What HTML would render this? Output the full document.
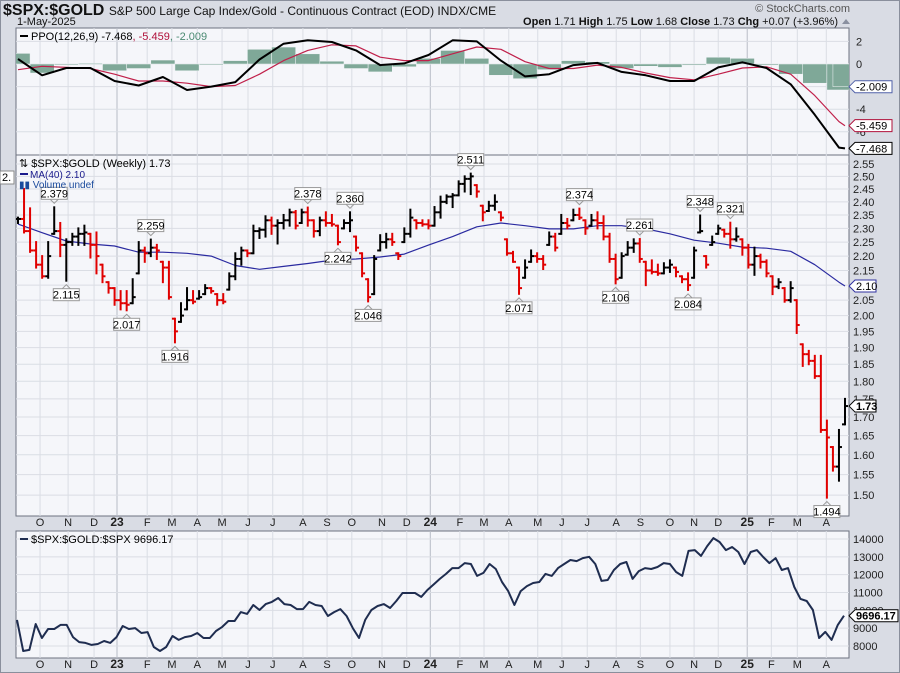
<!DOCTYPE html>
<html><head><meta charset="utf-8"><style>
html,body{margin:0;padding:0;background:#d9dce4;}
svg{display:block;font-family:"Liberation Sans",sans-serif;}
</style></head><body>
<svg id="chart" width="900" height="673" viewBox="0 0 900 673" xmlns="http://www.w3.org/2000/svg">
<rect x="0" y="0" width="900" height="673" fill="#d9dce4"/>
<rect x="0.5" y="0.5" width="899" height="672" fill="none" stroke="#8a8f9c"/>
<g>
<text x="3" y="15" font-size="16" font-weight="bold" fill="#111">$SPX:$GOLD <tspan font-size="12" font-weight="normal">S&amp;P 500 Large Cap Index/Gold - Continuous Contract (EOD) INDX/CME</tspan></text>
<text x="17" y="25" font-size="11" fill="#111">1-May-2025</text>
<text x="850" y="12" font-size="11" fill="#555" text-anchor="end">© StockCharts.com</text>
<text x="838" y="25" font-size="11" fill="#111" text-anchor="end"><tspan font-weight="bold">Open</tspan> 1.71  <tspan font-weight="bold">High</tspan> 1.75  <tspan font-weight="bold">Low</tspan> 1.68  <tspan font-weight="bold">Close</tspan> 1.73  <tspan font-weight="bold">Chg</tspan> +0.07 (+3.96%)</text>
<polygon points="842,24 850,24 846,19" fill="#8a90a0"/>
</g>
<rect x="16" y="28" width="833" height="127" fill="#f5f6fa" stroke="#6d7280"/>
<rect x="16" y="155" width="833" height="361" fill="#f5f6fa" stroke="#6d7280"/>
<rect x="16" y="531" width="833" height="127" fill="#f5f6fa" stroke="#6d7280"/>
<defs>
<clipPath id="cp1"><rect x="16" y="28" width="833" height="127"/></clipPath>
<clipPath id="cp2"><rect x="16" y="155" width="833" height="361"/></clipPath>
<clipPath id="cp3"><rect x="16" y="531" width="833" height="127"/></clipPath>
</defs>
<g id="grid"></g>
<g id="ppoG" clip-path="url(#cp1)"></g>
<g id="mainG" clip-path="url(#cp2)"></g>
<g id="botG" clip-path="url(#cp3)"></g>
<g id="axes"></g>
<g id="annots"></g>
<g>
<line x1="20" y1="36" x2="28" y2="36" stroke="#000" stroke-width="2"/>
<text x="31" y="40" font-size="11" fill="#000">PPO(12,26,9) -7.468<tspan fill="#b0103a">, -5.459</tspan><tspan fill="#4a8a72">, -2.009</tspan></text>
</g>
<g>
<text x="19" y="167" font-size="11" fill="#000">⇅ $SPX:$GOLD (Weekly) 1.73</text>
<line x1="20" y1="174" x2="28" y2="174" stroke="#1a1a8c" stroke-width="2"/>
<text x="30" y="178" font-size="10" fill="#1a1a8c">MA(40) 2.10</text>
<text x="19" y="188" font-size="10" fill="#1a4a9c">▮▮ Volume undef</text>
</g>
<g>
<line x1="20" y1="539" x2="28" y2="539" stroke="#1f2d50" stroke-width="2"/>
<text x="31" y="543" font-size="11" fill="#000">$SPX:$GOLD:$SPX 9696.17</text>
</g>
<g><rect x="0" y="171" width="14" height="13" fill="#fff" stroke="#888"/><text x="2" y="181" font-size="11">2.</text></g>
</svg>
<script>
var closes=[2.335,2.29,2.22,2.17,2.13,2.20,2.29,2.24,2.25,2.27,2.28,2.285,2.24,2.20,2.13,2.09,2.05,2.04,2.035,2.06,2.22,2.21,2.23,2.22,2.16,2.06,1.95,2.00,2.05,2.045,2.06,2.09,2.08,2.05,2.045,
2.13,2.19,2.22,2.21,2.29,2.295,2.33,2.31,2.32,2.33,2.36,2.31,2.36,2.33,2.29,2.33,2.32,2.315,2.25,2.32,2.33,2.23,2.14,2.06,2.19,2.25,2.26,2.25,2.20,2.28,2.34,2.32,2.315,2.31,2.36,
2.40,2.42,2.425,2.47,2.49,2.50,2.44,2.36,2.385,2.40,2.34,2.21,2.18,2.09,2.16,2.20,2.19,2.17,2.27,2.23,2.32,2.31,2.35,2.34,2.30,2.33,2.32,2.27,2.19,2.12,2.20,2.23,2.245,2.19,2.15,
2.145,2.14,2.16,2.17,2.145,2.12,2.10,2.22,2.29,2.17,2.25,2.30,2.28,2.26,2.27,2.23,2.17,2.20,2.18,2.14,2.095,2.11,2.05,2.09,1.97,1.88,1.86,1.815,1.665,1.645,1.57,1.62,1.73];
var highs=[2.34,2.45,2.375,2.25,2.20,2.25,2.379,2.32,2.26,2.28,2.30,2.31,2.28,2.285,2.17,2.11,2.09,2.08,2.08,2.12,2.25,2.23,2.259,2.24,2.18,2.18,1.99,2.04,2.09,2.08,2.08,2.10,2.09,2.07,2.07,
2.14,2.21,2.23,2.22,2.31,2.30,2.345,2.34,2.33,2.35,2.37,2.365,2.37,2.378,2.33,2.34,2.36,2.35,2.31,2.33,2.36,2.27,2.21,2.12,2.20,2.275,2.28,2.28,2.21,2.30,2.37,2.33,2.33,2.33,2.38,
2.42,2.425,2.43,2.48,2.50,2.511,2.465,2.385,2.40,2.425,2.36,2.26,2.215,2.16,2.185,2.22,2.21,2.20,2.285,2.28,2.35,2.335,2.37,2.374,2.33,2.35,2.36,2.345,2.28,2.205,2.21,2.25,2.26,2.261,2.18,
2.185,2.17,2.175,2.185,2.16,2.13,2.14,2.23,2.348,2.20,2.27,2.31,2.295,2.321,2.30,2.26,2.24,2.23,2.205,2.185,2.13,2.12,2.09,2.11,2.05,1.91,1.89,1.875,1.875,1.69,1.62,1.665,1.75];
var lows=[2.32,2.285,2.215,2.16,2.125,2.125,2.28,2.20,2.115,2.24,2.24,2.24,2.195,2.14,2.11,2.075,2.035,2.02,2.017,2.04,2.14,2.18,2.20,2.19,2.11,2.055,1.916,1.98,2.02,2.04,2.055,2.07,2.075,2.035,2.04,
2.085,2.12,2.17,2.20,2.21,2.265,2.27,2.28,2.245,2.30,2.31,2.30,2.32,2.31,2.27,2.275,2.31,2.31,2.242,2.30,2.29,2.22,2.13,2.046,2.07,2.22,2.23,2.24,2.19,2.25,2.27,2.30,2.31,2.30,2.31,
2.34,2.395,2.38,2.425,2.44,2.43,2.42,2.33,2.365,2.37,2.33,2.205,2.18,2.071,2.125,2.18,2.18,2.155,2.24,2.22,2.28,2.30,2.33,2.335,2.28,2.31,2.30,2.26,2.18,2.106,2.125,2.205,2.215,2.18,2.10,
2.14,2.135,2.14,2.145,2.13,2.11,2.084,2.125,2.285,2.16,2.24,2.28,2.27,2.23,2.255,2.205,2.16,2.135,2.16,2.13,2.07,2.09,2.045,2.045,1.945,1.845,1.85,1.81,1.66,1.494,1.56,1.535,1.68];
var ma40=[2.316,2.284,2.254,2.243,2.236,2.214,2.214,2.21,2.20,2.167,2.154,2.164,2.174,2.186,2.19,2.197,2.207,2.239,2.27,2.306,2.32,2.31,2.298,2.298,2.31,2.31,2.298,2.28,2.257,2.246,2.232,2.228,2.217,2.17,2.11,2.097];
var ppo=[0.44,-1.0,-0.35,-0.35,-1.5,-1.9,-1.15,-2.3,-2.0,-1.6,0.4,1.8,2.1,1.95,1.2,-0.1,0.05,0.8,2.1,2.0,0.3,-1.1,-0.9,-0.1,0.1,-0.7,-1.0,-1.5,-1.5,-0.3,0.15,-0.35,-1.8,-4.5,-7.4,-7.468];
var signal=[-0.5,-0.2,-0.3,-0.4,-0.9,-1.5,-1.5,-1.7,-2.0,-1.9,-0.9,0.3,1.2,1.7,1.6,0.6,0.3,0.3,0.9,1.5,1.3,0.2,-0.4,-0.4,-0.1,-0.3,-0.8,-1.2,-1.4,-0.9,-0.35,-0.25,-0.9,-2.8,-5.1,-5.459];
var ratio=[9460,7720,7780,9230,8450,8950,8950,9180,9180,8500,8220,8170,8060,8110,8280,8170,8500,9120,8950,9000,8730,8780,7940,7720,7940,8560,8340,8500,8560,8730,8450,8450,8840,9070,9400,9400,9900,9800,10300,10020,10350,10470,10690,
10350,10300,10070,10070,10470,10300,10240,9680,9900,10070,9680,9000,8450,9460,10020,10240,10350,10130,10520,10970,10970,10970,10750,11140,11450,11760,12040,12370,12370,12650,12600,11930,12100,12600,12320,11590,11080,10300,11080,11360,11530,11590,12040,11930,12370,12600,12820,12760,12930,13000,12600,
11650,11700,12260,12600,12710,11760,12200,12370,12320,12430,12650,12600,12150,11930,13330,13380,13050,13600,14050,13830,13380,13550,13270,12600,13270,13380,12990,12650,12930,12260,12370,11310,10640,10520,10020,8450,8790,8340,9180,9696.17];
var priceTicks=[2.55,2.50,2.45,2.40,2.35,2.30,2.25,2.20,2.15,2.10,2.05,2.00,1.95,1.90,1.85,1.80,1.75,1.70,1.65,1.60,1.55,1.50];
var ppoTicks=[2,0,-2,-4,-6];
var ppoTickLabels=["2","0","","-4","-6"];
var ratioTicks=[14000,13000,12000,11000,10000,9000,8000];
var monthLabels=["O","N","D","23","F","M","A","M","J","J","A","S","O","N","D","24","F","M","A","M","J","J","A","S","O","N","D","25","F","M","A"];
var monthWeeks=[3.65,8.3,12.6,16.4,21.4,25.5,29.7,33.8,38.1,42.2,47.2,51.2,55.3,60.3,64.4,68.3,73.2,77.2,81.3,86.1,90.1,94.3,99.1,103.1,108,112,116,120.8,124.8,129.1,133.9];
var peakLabels=[[6,'h'],[8,'l'],[18,'l'],[22,'h'],[26,'l'],[48,'h'],[53,'l'],[55,'h'],[58,'l'],[75,'h'],[83,'l'],[93,'h'],[99,'l'],[103,'h'],[111,'l'],[113,'h'],[118,'h'],[134,'l']];

var NS='http://www.w3.org/2000/svg';
function mk(tag,attrs,parent){var e=document.createElementNS(NS,tag);for(var k in attrs)e.setAttribute(k,attrs[k]);parent.appendChild(e);return e;}
var N=closes.length;
function xW(i){return 18+i*(827/(N-1));}
function yP(v){return 164+(Math.log10(2.55)-Math.log10(v))*1436.6;}
function yO(v){return 64-v*11.3;}
function yB(v){return 539+(14000-v)*0.01783;}
function sampleWeek(k){return Math.min(k*4,N-1);}

var grid=document.getElementById('grid'),axes=document.getElementById('axes');
monthWeeks.forEach(function(w,j){
  var x=xW(w);var yr=/\d/.test(monthLabels[j]);
  [[28,155],[155,516],[531,658]].forEach(function(r){
    var l=mk('line',{x1:x,y1:r[0],x2:x,y2:r[1],stroke:yr?'#b8bcc6':'#dadde4','stroke-width':1},grid);
    
    
  });
  [526,668].forEach(function(yy){
    var t=mk('text',{x:x,y:yy,'font-size':yr?12:11,'font-weight':yr?'bold':'normal','text-anchor':'middle',fill:'#222'},axes);
    t.textContent=monthLabels[j];
    
    
  });
});
priceTicks.forEach(function(v){
  var y=yP(v);
  var l=mk('line',{x1:16,y1:y,x2:849,y2:y,stroke:'#dadde4'},grid);
  
  
  var t=mk('text',{x:853,y:y+4,'font-size':11,fill:'#222'},axes);
  t.textContent=v.toFixed(2);
  
  
});
ppoTicks.forEach(function(v,j){
  var y=yO(v);
  var l=mk('line',{x1:16,y1:y,x2:849,y2:y,stroke:'#dadde4'},grid);
  
  
  var t=mk('text',{x:856,y:y+4,'font-size':11,fill:'#222'},axes);
  t.textContent=ppoTickLabels[j];
  
  
});
ratioTicks.forEach(function(v){
  var y=yB(v);
  var l=mk('line',{x1:16,y1:y,x2:849,y2:y,stroke:'#dadde4'},grid);
  
  
  var t=mk('text',{x:853,y:y+4,'font-size':11,fill:'#222'},axes);
  t.textContent=String(v);
  
  
});

var ppoG=document.getElementById('ppoG');
var stepW=827/(N-1);
for(var k=0;k<ppo.length;k++){
  var h=ppo[k]-signal[k];var w=sampleWeek(k);
  var x=xW(w)-2*stepW;var y0=yO(0),y1=yO(h);
  var r=mk('rect',{x:x,y:Math.min(y0,y1),width:4*stepW,height:Math.max(1,Math.abs(y1-y0)),fill:'#7fa898',stroke:'#f5f6fa','stroke-width':0.5},ppoG);
  
  
}
function poly(arr,xf,yf,color,wd,parent,name){
  var pts=arr.map(function(v,k){return xf(k).toFixed(1)+','+yf(v).toFixed(1);}).join(' ');
  var p=mk('polyline',{points:pts,fill:'none',stroke:color,'stroke-width':wd,'stroke-linejoin':'round'},parent);
  
  
}
poly(signal,function(k){return xW(sampleWeek(k));},yO,'#c0204a',1.2,ppoG,'ppo-signal-line');
poly(ppo,function(k){return xW(sampleWeek(k));},yO,'#000',2,ppoG,'ppo-line');

var mainG=document.getElementById('mainG');
poly(ma40,function(k){return xW(sampleWeek(k));},yP,'#2a2aa0',1.2,mainG,'ma40-line');
for(var i=0;i<N;i++){
  var c=closes[i],prev=i?closes[i-1]:c;
  var hi=Math.max(highs[i],c),lo=Math.min(lows[i],c);
  var o=Math.min(hi,Math.max(lo,prev));
  var col=c>=prev?'#000':'#e00000';
  var xx=xW(i);
  var g=mk('g',{},mainG);
  
  
  mk('line',{x1:xx,y1:yP(hi)-1,x2:xx,y2:yP(lo)+1,stroke:col,'stroke-width':2},g);
  mk('line',{x1:xx-3,y1:yP(o),x2:xx,y2:yP(o),stroke:col,'stroke-width':2},g);
  mk('line',{x1:xx,y1:yP(c),x2:xx+3,y2:yP(c),stroke:col,'stroke-width':2},g);
}

var botG=document.getElementById('botG');
poly(ratio,function(k){return xW(k*(N-1)/(ratio.length-1))-1;},yB,'#1f2d50',2,botG,'ratio-line');

var an=document.getElementById('annots');
peakLabels.forEach(function(p){
  var i=p[0],isH=p[1]==='h',v=isH?highs[i]:lows[i];
  var x=xW(i),y=isH?yP(v)-4:yP(v)+4;
  var g=mk('g',{},an);
  
  
  var by=isH?y-16:y+4;
  mk('polyline',{points:(x-4)+','+(isH?y-4:y+4)+' '+x+','+y+' '+(x+4)+','+(isH?y-4:y+4),fill:'none',stroke:'#999'},g);
  mk('rect',{x:x-13,y:by,width:26,height:12,fill:'#fff',stroke:'#999'},g);
  var t=mk('text',{x:x,y:by+10,'font-size':11,'text-anchor':'middle',fill:'#000'},g);
  t.textContent=v.toFixed(3);
});

function tag(y,txt,col,bold,w,name){
  var g=mk('g',{},axes);
  
  
  var x=849;
  mk('polygon',{points:x+','+y+' '+(x+6)+','+(y-6)+' '+(x+w)+','+(y-6)+' '+(x+w)+','+(y+6)+' '+(x+6)+','+(y+6),fill:'#fff',stroke:col,'stroke-width':1},g);
  var t=mk('text',{x:x+7,y:y+4,'font-size':11,'font-weight':bold?'bold':'normal',fill:'#000'},g);
  t.textContent=txt;
}
tag(yO(ppo[ppo.length-1]-signal[signal.length-1]),'-2.009','#5060a8',false,43,'histogram-value-tag');
tag(yO(signal[signal.length-1]),'-5.459','#b0103a',false,43,'signal-value-tag');
tag(yO(ppo[ppo.length-1]),'-7.468','#000',false,43,'ppo-value-tag');
tag(yP(ma40[ma40.length-1]),'2.10','#3030a0',false,27,'ma-value-tag');
tag(yP(closes[N-1]),'1.73','#000',true,27,'close-value-tag');
tag(yB(ratio[ratio.length-1]),'9696.17','#000',true,49,'ratio-value-tag');
</script>
</body></html>
